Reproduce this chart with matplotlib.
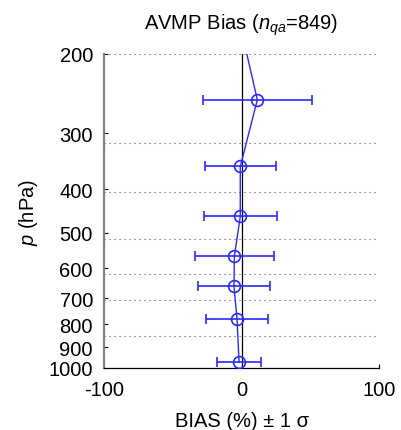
import numpy as np
import matplotlib
matplotlib.use("Agg")
import matplotlib.pyplot as plt
from matplotlib.ticker import FixedLocator, NullLocator

plt.rcParams['font.family'] = ['Liberation Sans', 'DejaVu Sans']
plt.rcParams['mathtext.fontset'] = 'custom'
plt.rcParams['mathtext.rm'] = 'Liberation Sans'
plt.rcParams['mathtext.it'] = 'Liberation Sans:italic'

# layer pressures (hPa), bias (%) and 1-sigma (%)
pres = [150, 253, 356, 460, 564, 658, 776, 969]
bias = [-5.5, 11.5, -0.9, -0.9, -5.2, -5.5, -3.3, -1.8]
sigma = [30.0, 39.7, 26.0, 26.7, 28.5, 26.3, 22.7, 16.1]
# layer boundaries drawn as dotted lines
bounds = [200, 315, 405, 515, 617, 705, 850]
yticks = [200, 300, 400, 500, 600, 700, 800, 900, 1000]
xticks = [-100, 0, 100]

fig = plt.figure(figsize=(4.01, 4.31), dpi=100)
ax = fig.add_axes([0.2594, 0.1439, 0.6858, 0.7285])

for b in bounds:
    ax.axhline(b, color='#555555', lw=0.8, ls=(0, (1, 3.5)), zorder=1)

ax.axvline(0, color='black', lw=0.9, zorder=2)

blue = '#2a2aff'
ax.errorbar(bias, pres, xerr=sigma, fmt='-', color=blue, lw=1.0,
            elinewidth=1.2, capsize=3.6, capthick=1.2, zorder=3)
ax.plot(bias, pres, 'o', mfc='none', mec=blue, ms=8.5, mew=1.2, zorder=4)

ax.set_yscale('log')
ax.set_ylim(1000, 200)
ax.set_xlim(-100, 100)
ax.yaxis.set_major_locator(FixedLocator(yticks))
ax.yaxis.set_minor_locator(NullLocator())
ax.set_yticklabels([str(t) for t in yticks])
ax.set_xticks(xticks)
ax.set_xticklabels([str(t) for t in xticks])

for s in ['top', 'right']:
    ax.spines[s].set_visible(False)
ax.spines['left'].set_color('#808080')
ax.spines['left'].set_linewidth(1.6)
ax.spines['bottom'].set_linewidth(0.9)

ax.tick_params(axis='y', direction='in', length=3, pad=8, labelsize=14.5)
ax.tick_params(axis='x', direction='in', length=3, pad=9, labelsize=14.5)

ax.set_title('AVMP Bias ($n_{qa}$=849)', fontsize=14.5, pad=18)
ax.set_xlabel('BIAS (%) ± 1 σ', fontsize=14.5, labelpad=8)
ax.set_ylabel('$p$ (hPa)', fontsize=14.5, labelpad=6)

fig.savefig('out.png', dpi=100)
